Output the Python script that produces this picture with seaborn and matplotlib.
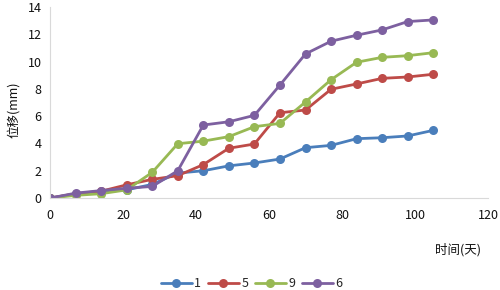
import matplotlib
matplotlib.use("Agg")
import matplotlib.pyplot as plt
import numpy as np
import pandas as pd
import seaborn as sns

# %% data
days = [0, 7, 14, 21, 28, 35, 42, 49, 56, 63, 70, 77, 84, 91, 98, 105]
s1 = [0, 0.30, 0.45, 0.60, 1.00, 1.83, 2.00, 2.36, 2.57, 2.86, 3.69, 3.86, 4.35, 4.42, 4.55, 4.96]
s5 = [0, 0.32, 0.50, 0.97, 1.37, 1.64, 2.45, 3.65, 3.96, 6.25, 6.45, 7.97, 8.36, 8.77, 8.87, 9.07]
s9 = [0, 0.20, 0.32, 0.60, 1.88, 3.98, 4.17, 4.50, 5.23, 5.47, 7.04, 8.67, 9.95, 10.31, 10.43, 10.65]
s6 = [0, 0.36, 0.55, 0.72, 0.85, 2.00, 5.35, 5.59, 6.06, 8.28, 10.56, 11.49, 11.93, 12.32, 12.93, 13.05]
series_names = ["1", "5", "9", "6"]
colors = ["#4A7EBB", "#BE4B48", "#98B954", "#7D60A0"]

df = pd.DataFrame({"day": days, "1": s1, "5": s5, "9": s9, "6": s6})
long = df.melt(id_vars="day", var_name="series", value_name="disp")

# %% plot
sns.set_style("white")
plt.rcParams["font.family"] = ["Noto Sans CJK SC", "DejaVu Sans"]

fig, ax = plt.subplots(figsize=(5, 2.9), dpi=100)
fig.subplots_adjust(left=0.10, right=0.976, top=0.976, bottom=0.317)

sns.lineplot(
    data=long,
    x="day",
    y="disp",
    hue="series",
    hue_order=series_names,
    palette=colors,
    marker="o",
    markersize=6.5,
    markeredgewidth=0,
    linewidth=2,
    ax=ax,
)

ax.set_xlim(0, 120)
ax.set_ylim(0, 14)
ax.set_xticks(np.arange(0, 121, 20))
ax.set_yticks(np.arange(0, 15, 2))
ax.tick_params(axis="both", length=0, labelsize=9, colors="#111111", pad=6)
ax.tick_params(axis="x", pad=8)

for side in ["top", "right"]:
    ax.spines[side].set_visible(False)
for side in ["left", "bottom"]:
    ax.spines[side].set_color("#D9D9D9")
    ax.spines[side].set_linewidth(0.8)

ax.set_xlabel("")
ax.set_ylabel("")
fig.text(0.028, 0.62, "位移(mm)", rotation=90, ha="center", va="center", fontsize=9, color="#111111")
fig.text(0.915, 0.14, "时间(天)", ha="center", va="center", fontsize=9, color="#111111")

ax.legend(
    loc="upper center",
    bbox_to_anchor=(0.46, -0.355),
    ncol=4,
    frameon=False,
    fontsize=9,
    handlelength=2.5,
    columnspacing=0.5,
    handletextpad=0.2,
)

fig.savefig("out.png", dpi=100)
